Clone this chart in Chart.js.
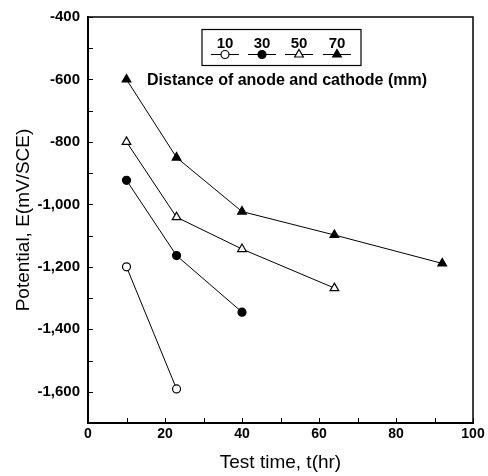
<!DOCTYPE html>
<html><head><meta charset="utf-8">
<script src="https://cdn.jsdelivr.net/npm/chart.js@4/dist/chart.umd.min.js"></script>
<style>html,body{margin:0;padding:0;background:#fff}canvas{display:block}</style>
</head><body>
<canvas id="c" width="488" height="476"></canvas>
<script>
// ---- data ----
const distanceLabels = ['10', '30', '50', '70'];
const time10 = [10, 23];
const potential10 = [-1200, -1591];
const time30 = [10, 23, 40];
const potential30 = [-923, -1164, -1345];
const time50 = [10, 23, 40, 64];
const potential50 = [-800, -1041, -1143, -1268];
const time70 = [10, 23, 40, 64, 92];
const potential70 = [-600, -850, -1023, -1098, -1189];
const xTickMin = 0, xTickMax = 100, xTickStep = 10, xLabelStep = 20;
const yTickMin = -1700, yTickMax = -400, yTickStep = 100, yLabelStep = 200;
const legendTitle = 'Distance of anode and cathode (mm)';

const FONT = "'Liberation Sans', Arial, Helvetica, sans-serif";
const pts = (xs, ys) => xs.map((x, i) => ({x, y: ys[i]}));
const styles = [
  {pointStyle: 'circle', fill: '#fff', radius: 4},
  {pointStyle: 'circle', fill: '#000', radius: 4},
  {pointStyle: 'triangle', fill: '#fff', radius: 5},
  {pointStyle: 'triangle', fill: '#000', radius: 5}
];
const seriesData = [pts(time10, potential10), pts(time30, potential30), pts(time50, potential50), pts(time70, potential70)];

const datasets = seriesData.map((d, i) => ({
  label: distanceLabels[i],
  data: d,
  showLine: true,
  borderColor: '#000',
  borderWidth: 1,
  pointStyle: styles[i].pointStyle,
  pointRadius: styles[i].radius,
  pointHoverRadius: styles[i].radius,
  pointBackgroundColor: styles[i].fill,
  pointBorderColor: '#000',
  pointBorderWidth: 1.2
}));

const framePlugin = {
  id: 'frame',
  afterDraw(chart) {
    const ctx = chart.ctx;
    const a = chart.chartArea;
    const xs = chart.scales.x, ys = chart.scales.y;
    ctx.save();
    ctx.strokeStyle = '#000';
    ctx.lineWidth = 1.5;
    ctx.beginPath();
    ctx.moveTo(a.left, a.top); ctx.lineTo(a.right, a.top); ctx.lineTo(a.right, a.bottom);
    ctx.stroke();
    ctx.lineWidth = 1;
    ctx.beginPath();
    ys.ticks.forEach(t => {
      const p = Math.round(ys.getPixelForValue(t.value)) + 0.5;
      ctx.moveTo(a.left, p); ctx.lineTo(a.left + 5, p);
    });
    xs.ticks.forEach(t => {
      const p = Math.round(xs.getPixelForValue(t.value)) + 0.5;
      ctx.moveTo(p, a.bottom); ctx.lineTo(p, a.bottom - 5);
    });
    ctx.stroke();

    // legend box
    ctx.lineWidth = 1.2;
    ctx.strokeRect(202, 29.5, 159, 36);
    const centers = [225, 262, 299, 337];
    ctx.fillStyle = '#000';
    ctx.font = 'bold 15px ' + FONT;
    ctx.textAlign = 'center';
    ctx.textBaseline = 'alphabetic';
    distanceLabels.forEach((lab, i) => {
      ctx.fillStyle = '#000';
      ctx.fillText(lab, centers[i], 48);
      ctx.lineWidth = 1;
      ctx.beginPath();
      ctx.moveTo(centers[i] - 14, 54.5); ctx.lineTo(centers[i] + 14, 54.5);
      ctx.stroke();
      ctx.fillStyle = styles[i].fill;
      ctx.lineWidth = 1.2;
      Chart.helpers.drawPoint(ctx, {pointStyle: styles[i].pointStyle, radius: styles[i].radius, rotation: 0, borderWidth: 1.2}, centers[i], 54.5);
    });
    ctx.fillStyle = '#000';
    ctx.font = 'bold 16px ' + FONT;
    ctx.textAlign = 'left';
    ctx.fillText(legendTitle, 147, 85);
    ctx.restore();
  }
};

new Chart(document.getElementById('c'), {
  type: 'scatter',
  data: {datasets},
  plugins: [framePlugin],
  options: {
    responsive: false,
    animation: false,
    devicePixelRatio: 1,
    layout: {padding: {left: 12, right: 15, top: 12, bottom: 2}},
    plugins: {legend: {display: false}, tooltip: {enabled: false}},
    scales: {
      x: {
        type: 'linear', min: xTickMin, max: xTickMax,
        afterFit(s) { s.height = 51; },
        grid: {drawOnChartArea: false, drawTicks: false},
        border: {display: true, color: '#000', width: 2},
        ticks: {
          stepSize: xTickStep, autoSkip: false, maxRotation: 0, padding: 3,
          color: '#000', font: {family: FONT, size: 14, weight: 'bold'},
          callback: v => (v % xLabelStep === 0 ? String(v) : '')
        },
        title: {display: true, text: 'Test time, t(hr)', color: '#000', padding: 0, font: {family: FONT, size: 19}}
      },
      y: {
        type: 'linear', min: yTickMin, max: yTickMax,
        afterFit(s) { s.width = 76; },
        grid: {drawOnChartArea: false, drawTicks: false},
        border: {display: true, color: '#000', width: 2},
        ticks: {
          stepSize: yTickStep, autoSkip: false, padding: 8,
          color: '#000', font: {family: FONT, size: 15, weight: 'bold'},
          callback: v => (v % yLabelStep === 0 && v !== yTickMin ? v.toLocaleString('en-US') : '')
        },
        title: {display: true, text: 'Potential, E(mV/SCE)', color: '#000', padding: 0, font: {family: FONT, size: 19}}
      }
    }
  }
});
</script>
</body></html>
